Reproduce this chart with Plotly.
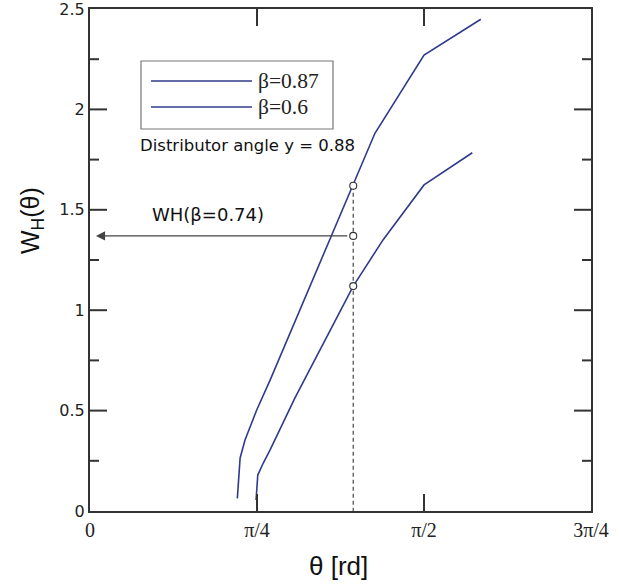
import math
import plotly.graph_objects as go

# Hydraulic torque function W_H(theta) for two blade-ratio values
theta_b087 = [0.693, 0.706, 0.729, 0.784, 0.847, 1.238, 1.340, 1.571, 1.838]
wh_b087 = [0.063, 0.264, 0.354, 0.503, 0.652, 1.620, 1.881, 2.271, 2.449]

theta_b060 = [0.781, 0.789, 0.815, 0.847, 0.964, 1.238, 1.378, 1.481, 1.571, 1.798]
wh_b060 = [0.055, 0.179, 0.239, 0.304, 0.563, 1.120, 1.350, 1.499, 1.624, 1.784]

# Operating point at the distributor angle and interpolated value for beta = 0.74
theta_op = 1.238
wh_op = [1.620, 1.370, 1.120]

x_tickvals = [0, math.pi / 4, math.pi / 2, 3 * math.pi / 4]
x_ticktext = ["0", "π/4", "π/2", "3π/4"]
y_tickvals = [0, 0.5, 1, 1.5, 2, 2.5]
y_ticktext = ["0", "0.5", "1", "1.5", "2", "2.5"]
y_minorvals = [0.25, 0.75, 1.25, 1.75, 2.25]

series_names = ["β=0.87", "β=0.6"]
LINE_COLOR = "#2f3b8a"
AXIS_COLOR = "#333333"
SANS = "DejaVu Sans"
SERIF = "Liberation Serif"

W, H = 619, 588
L, R, T, B = 90, 28, 9, 77
X_MAX = 3 * math.pi / 4
Y_MAX = 2.5
PLOT_W = W - L - R
PLOT_H = H - T - B

fig = go.Figure()
fig.add_trace(go.Scatter(x=theta_b087, y=wh_b087, mode="lines",
                         line=dict(color=LINE_COLOR, width=1.6), name=series_names[0],
                         showlegend=False))
fig.add_trace(go.Scatter(x=theta_b060, y=wh_b060, mode="lines",
                         line=dict(color=LINE_COLOR, width=1.6), name=series_names[1],
                         showlegend=False))

# vertical dashed guide at the distributor angle
fig.add_trace(go.Scatter(x=[theta_op, theta_op], y=[wh_op[0], 0], mode="lines",
                         line=dict(color="#555555", width=1.3, dash="4px,3px"),
                         showlegend=False, hoverinfo="skip"))

# horizontal arrow from the interpolated point to the W_H axis
fig.add_annotation(x=0.028, y=wh_op[1], ax=theta_op, ay=wh_op[1],
                   xref="x", yref="y", axref="x", ayref="y",
                   showarrow=True, arrowhead=2, arrowsize=1.3, arrowwidth=1.4,
                   arrowcolor="#444444", text=" ", standoff=0, startstandoff=3)

fig.add_trace(go.Scatter(x=[theta_op] * 3, y=wh_op, mode="markers",
                         marker=dict(size=7, color="white",
                                     line=dict(color="#333333", width=1.1)),
                         showlegend=False, hoverinfo="skip"))

fig.update_xaxes(range=[0, X_MAX], tickmode="array", tickvals=x_tickvals,
                 ticktext=x_ticktext, ticks="", automargin=False,
                 ticklabeloverflow="allow",
                 showline=True, linecolor=AXIS_COLOR, linewidth=2, mirror=True,
                 showgrid=False, zeroline=False,
                 tickfont=dict(family=SERIF, size=20, color="#222222"))
fig.update_yaxes(range=[0, Y_MAX], tickmode="array", tickvals=y_tickvals,
                 ticktext=y_ticktext, ticks="", automargin=False,
                 ticklabeloverflow="allow",
                 showline=True, linecolor=AXIS_COLOR, linewidth=2, mirror=True,
                 showgrid=False, zeroline=False,
                 tickfont=dict(family=SANS, size=16, color="#222222"))

# inside tick marks on all four sides; lengths given in pixels, converted to axis units
def xlen(pix):
    return pix / PLOT_W * X_MAX

def ylen(pix):
    return pix / PLOT_H * Y_MAX

tick_line = dict(color=AXIS_COLOR, width=2)
shapes = []
for v, ln in [(v, 17) for v in y_tickvals[1:-1]] + [(v, 9) for v in y_minorvals]:
    shapes.append(dict(type="line", xref="x", yref="y",
                       x0=0, x1=xlen(ln), y0=v, y1=v, line=tick_line, layer="above"))
    shapes.append(dict(type="line", xref="x", yref="y",
                       x0=X_MAX - xlen(ln), x1=X_MAX, y0=v, y1=v, line=tick_line,
                       layer="above"))
for v in x_tickvals[1:-1]:
    shapes.append(dict(type="line", xref="x", yref="y",
                       y0=0, y1=ylen(17), x0=v, x1=v, line=tick_line, layer="above"))
    shapes.append(dict(type="line", xref="x", yref="y",
                       y0=Y_MAX - ylen(17), y1=Y_MAX, x0=v, x1=v, line=tick_line,
                       layer="above"))

# pixel -> paper helpers for the hand-drawn legend box
def px(xp):
    return (xp - L) / PLOT_W

def py(yp):
    return 1 - (yp - T) / PLOT_H

shapes.append(dict(type="rect", xref="paper", yref="paper",
                   x0=px(141), x1=px(333), y0=py(129), y1=py(61),
                   line=dict(color="#777777", width=1.2), fillcolor="white", layer="below"))
for yy in (81, 107):
    shapes.append(dict(type="line", xref="paper", yref="paper",
                       x0=px(151), x1=px(252), y0=py(yy), y1=py(yy),
                       line=dict(color=LINE_COLOR, width=1.6)))
fig.update_layout(shapes=shapes)

for name, yy in zip(series_names, (81, 107)):
    fig.add_annotation(x=px(256), y=py(yy), xref="paper", yref="paper", text=name,
                       showarrow=False, xanchor="left", yanchor="middle",
                       font=dict(family=SERIF, size=21.5, color="#222222"))

fig.add_annotation(x=px(138), y=py(145), xref="paper", yref="paper",
                   text="Distributor angle y = 0.88", showarrow=False,
                   xanchor="left", yanchor="middle",
                   font=dict(family=SANS, size=16.5, color="#111111"))
fig.add_annotation(x=px(150), y=py(214), xref="paper", yref="paper",
                   text="WH(β=0.74)", showarrow=False,
                   xanchor="left", yanchor="middle",
                   font=dict(family=SANS, size=18, color="#111111"))

# axis titles
fig.add_annotation(x=px(338), y=py(566), xref="paper", yref="paper",
                   text="θ [rd]", showarrow=False, xanchor="center", yanchor="middle",
                   font=dict(family="Liberation Sans", size=26, color="#111111"))
fig.add_annotation(x=px(32), y=py(221), xref="paper", yref="paper",
                   text="W<sub>H</sub>(θ)", showarrow=False, textangle=-90,
                   xanchor="center", yanchor="middle",
                   font=dict(family="Liberation Sans", size=25, color="#111111"))

fig.update_layout(width=W, height=H, margin=dict(l=L, r=R, t=T, b=B, autoexpand=False),
                  paper_bgcolor="white", plot_bgcolor="white", showlegend=False)

fig.write_html("out.html")
